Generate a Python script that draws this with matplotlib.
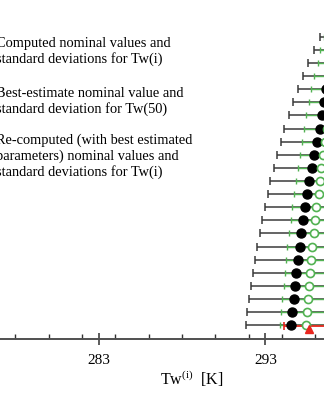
import numpy as np
import matplotlib
matplotlib.use("Agg")
import matplotlib.pyplot as plt
from matplotlib.ticker import MultipleLocator

# rows listed from top to bottom
# computed nominal values / standard deviations for Tw(i)
comp_mean = [297.47, 297.25, 297.04, 296.84, 296.66, 296.50, 296.41, 296.27,
             296.11, 295.90, 295.81, 295.65, 295.51, 295.39, 295.24, 295.16,
             295.09, 294.98, 294.86, 294.79, 294.70, 294.62, 294.56]
comp_std = [1.20, 1.35, 1.50, 1.60, 1.72, 1.83, 2.01, 2.13, 2.17, 2.20, 2.31,
            2.35, 2.37, 2.43, 2.44, 2.50, 2.57, 2.58, 2.58, 2.65, 2.68, 2.72,
            2.74]

# re-computed (best estimated parameters)
recomp_mean = [297.77, 297.59, 297.47, 297.27, 297.09, 296.95, 296.81, 296.67,
               296.60, 296.43, 296.35, 296.27, 296.21, 296.07, 295.99, 295.90,
               295.83, 295.75, 295.66, 295.60, 295.54, 295.47, 295.41]
recomp_std = [1.25, 1.28, 1.30, 1.32, 1.34, 1.35, 1.36, 1.37, 1.39, 1.37, 1.41,
              1.45, 1.51, 1.45, 1.47, 1.47, 1.51, 1.53, 1.50, 1.50, 1.52, 1.51,
              1.51]

# best estimate Tw(50)
best_mean = 295.65
best_std = 1.55

legend_texts = [
    "Computed nominal values and\nstandard deviations for Tw(i)",
    "Best-estimate nominal value and\nstandard deviation for Tw(50)",
    "Re-computed (with best estimated\nparameters) nominal values and\nstandard deviations for Tw(i)",
]

plt.rcParams['font.family'] = ['Liberation Serif', 'DejaVu Serif']
plt.rcParams['mathtext.fontset'] = 'custom'
plt.rcParams['mathtext.rm'] = 'Liberation Serif'

n = len(comp_mean)
y = np.arange(n, 0, -1)

fig = plt.figure(figsize=(3.24, 4.0), dpi=100)
ax = fig.add_axes([0, 0.1518, 1, 0.8482])

dark = '#3a3a3a'
green = '#52b252'
red = '#e8261e'

ax.errorbar(comp_mean, y, xerr=comp_std, fmt='none', ecolor=dark,
            elinewidth=1.1, capsize=3, capthick=1.1, zorder=2)
ax.errorbar(recomp_mean, y, xerr=recomp_std, fmt='none', ecolor=green,
            elinewidth=1.0, capsize=2.5, capthick=1.0, zorder=3)
ax.errorbar([best_mean], [0.93], xerr=[best_std], fmt='none', ecolor=red,
            elinewidth=1.3, capsize=3, capthick=1.2, zorder=4)

ax.plot(comp_mean, y, 'o', color='black', markersize=6.5, zorder=5)
ax.plot(recomp_mean, y, 'o', mfc='white', mec=green, mew=1.2,
        markersize=5.8, zorder=6)
ax.plot([best_mean], [0.7], '^', color=red, markersize=6, zorder=7,
        clip_on=False)

ax.set_xlim(277.08, 296.52)
ax.set_ylim(-0.07, 25.8)

for s in ['left', 'right', 'top']:
    ax.spines[s].set_visible(False)
ax.spines['bottom'].set_color('#505050')
ax.spines['bottom'].set_linewidth(1.4)
ax.set_yticks([])

ax.set_xticks([283, 293])
ax.xaxis.set_minor_locator(MultipleLocator(2))
ax.tick_params(axis='x', which='major', direction='inout', length=9,
               width=1.1, color='#303030', labelsize=11, pad=6)
ax.tick_params(axis='x', which='minor', direction='in', length=3.5,
               width=1.0, color='#303030')
ax.set_xlabel("Tw$^{\\mathrm{(i)}}$  [K]", fontsize=11.5, labelpad=1, x=0.593)

# legend entries (markers cropped off at the left in the reference)
first_baselines = [46.7, 96.7, 144.0]
line_step = 15.8
for txt, b in zip(legend_texts, first_baselines):
    for k, line in enumerate(txt.split("\n")):
        fig.text(-0.012, 1 - (b + k * line_step) / 400, line, fontsize=10.4,
                 va='baseline', ha='left')

fig.savefig("out.png", dpi=100)
